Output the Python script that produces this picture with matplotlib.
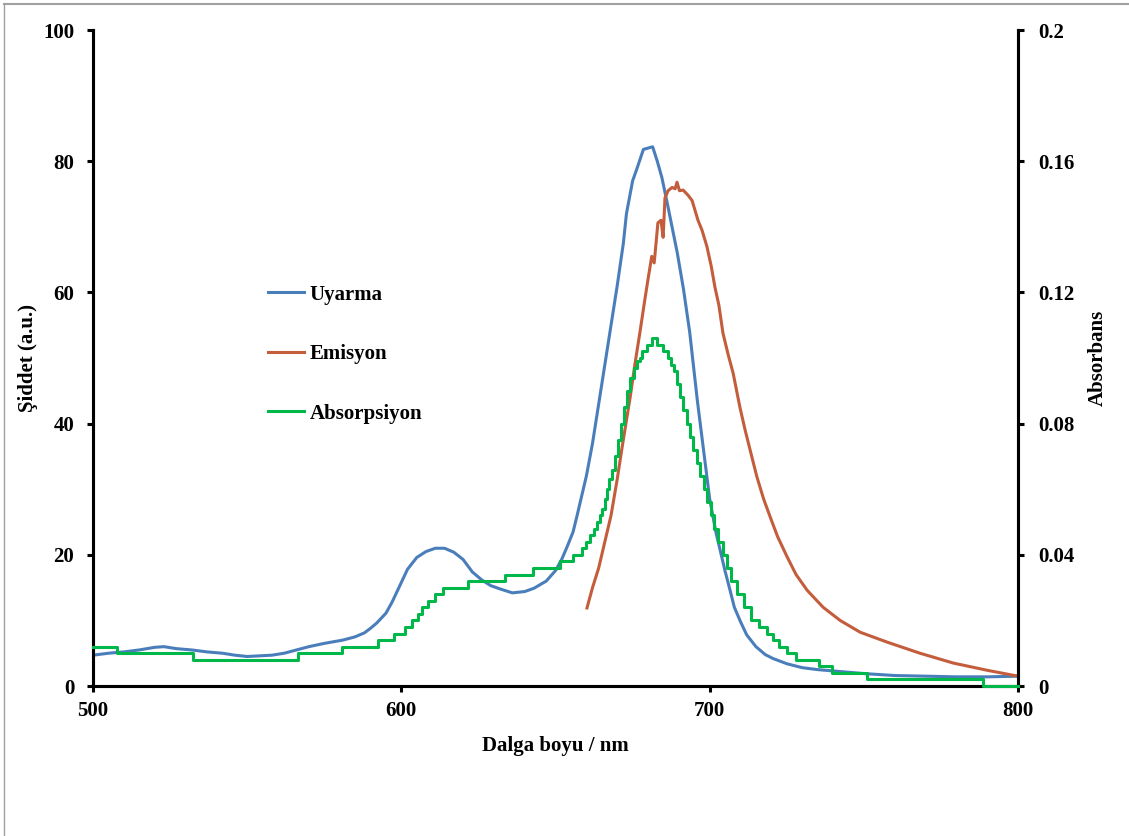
import matplotlib.pyplot as plt
from matplotlib.lines import Line2D
from matplotlib.ticker import FuncFormatter

plt.rcParams["font.family"] = ["Liberation Serif", "DejaVu Serif"]
plt.rcParams["font.weight"] = "bold"

# ---- Uyarma (uyarılma spektrumu), sol eksen ----
uyarma_nm = [500, 505, 510, 515, 520, 523, 527, 532, 537, 542, 546, 550, 554, 558,
             562, 566, 570, 575, 581, 585, 588, 590, 592, 595, 597, 600, 602, 605,
             608, 611, 614, 617, 620, 623, 626, 629, 632, 636, 640, 643, 647, 650,
             652, 654, 655.7, 657, 658, 660, 662, 664, 666, 668, 670, 672, 673, 675,
             676.5, 678.5, 680, 681.5, 683, 684.5, 686.5, 688, 689.5, 691.5, 693.5,
             696, 698, 700, 702, 703.5, 705, 706.6, 708, 710, 712, 715, 718, 720.5,
             725, 730, 735, 740, 745, 750, 760, 770, 780, 790, 800]
uyarma = [4.7, 5.0, 5.2, 5.5, 5.9, 6.0, 5.7, 5.5, 5.2, 5.0, 4.7, 4.5, 4.6, 4.7,
          5.0, 5.5, 6.0, 6.5, 7.0, 7.5, 8.1, 8.8, 9.6, 11.1, 12.8, 15.8, 17.8, 19.6,
          20.5, 21.0, 21.0, 20.4, 19.3, 17.4, 16.2, 15.3, 14.8, 14.2, 14.4, 14.9, 16.0, 17.6,
          19.3, 21.5, 23.5, 26.0, 28.0, 32.0, 37.0, 43.0, 49.0, 55.0, 61.0, 67.5, 72.0, 77.0,
          79.0, 81.8, 82.0, 82.2, 80.0, 77.5, 73.0, 69.5, 66.0, 60.5, 54.0,
          43.5, 36.0, 28.5, 23.5, 20.5, 17.5, 14.6, 12.0, 9.8, 7.8, 6.0, 4.8, 4.2,
          3.4, 2.8, 2.5, 2.3, 2.1, 1.9, 1.6, 1.5, 1.4, 1.4, 1.5]

# ---- Emisyon, sol eksen ----
emisyon_nm = [660.2, 662, 664, 666, 668, 670, 671.6, 673, 674.2, 675.8, 677.4, 679, 680,
              681.2, 682, 682.6, 683.2, 684.2, 684.9, 685.5, 686.5, 687.8, 688.8, 689.4,
              690.2, 691.4, 693, 694.3, 696.2, 697.5, 699.1, 700.5, 701.7, 703, 704.3,
              706, 707.6, 709.8, 711.5, 713.1, 715.3, 717.5, 719.6, 722, 725.1, 728,
              731.6, 736.8, 742.3, 748.8, 757.5, 768.2, 779, 790, 800]
emisyon = [11.9, 15.0, 18.0, 22.0, 26.0, 31.5, 36.4, 40.5, 44.0, 49.2, 54.0, 59.0, 62.0,
           65.5, 64.5, 67.5, 70.6, 71.0, 68.4, 74.4, 75.5, 76.0, 75.8, 76.8,
           75.5, 75.6, 74.8, 74.0, 71.0, 69.5, 67.0, 64.0, 60.8, 58.0, 53.8,
           50.5, 47.7, 42.5, 39.0, 36.0, 31.9, 28.5, 25.8, 22.8, 19.7, 17.0,
           14.6, 12.0, 10.0, 8.2, 6.7, 5.0, 3.5, 2.4, 1.5]

# ---- Absorpsiyon (basamaklı), sağ eksen ----
abs_nm = [500, 507.8, 532.4, 566.5, 580.8, 592.4, 597.5, 601.2, 603.5, 605.5, 606.7,
          608.5, 611, 613.5, 621.6, 633.6, 642.7, 651.5, 655.7, 658.6, 660.0, 661.3,
          662.5, 663.5, 664.3, 665.1, 665.9, 666.7, 667.5, 668.3, 669.3, 670.3, 671.3,
          672.3, 673.3, 674.3, 675.3, 676.4, 677.4, 678.1, 679.7, 681.3, 683.0, 685.0,
          686.5, 687.5, 688.5, 689.5, 690.5, 691.5, 692.7, 693.7, 694.7, 695.8, 697.0,
          698.0, 699.2, 700.3, 701.5, 702.8, 704.2, 705.5, 707.0, 709.0, 711.0, 713.5,
          716.0, 718.5, 720.5, 722.5, 725.0, 728.0, 735.5, 739.7, 751.0, 788.6, 800]
absorpsiyon = [0.012, 0.010, 0.008, 0.010, 0.012, 0.014, 0.016, 0.018, 0.020, 0.022, 0.024,
               0.026, 0.028, 0.030, 0.032, 0.034, 0.036, 0.038, 0.040, 0.042, 0.044, 0.046,
               0.048, 0.050, 0.052, 0.054, 0.057, 0.060, 0.063, 0.066, 0.070, 0.075, 0.080,
               0.085, 0.090, 0.094, 0.097, 0.099, 0.100, 0.102, 0.104, 0.106, 0.104, 0.102,
               0.100, 0.098, 0.096, 0.092, 0.088, 0.084, 0.080, 0.076, 0.072, 0.068, 0.064,
               0.060, 0.056, 0.052, 0.048, 0.044, 0.040, 0.036, 0.032, 0.028, 0.024, 0.020,
               0.018, 0.016, 0.014, 0.012, 0.010, 0.008, 0.006, 0.004, 0.002, 0.000, 0.000]

renk_uyarma = "#4a7ebb"
renk_emisyon = "#c35d3c"
renk_abs = "#00b84a"

fig = plt.figure(figsize=(11.29, 8.36), dpi=100)
ax = fig.add_axes([0.0824, 0.1794, 0.8193, 0.7847])
ax2 = ax.twinx()

l1, = ax.plot(uyarma_nm, uyarma, color=renk_uyarma, lw=2.2, label="Uyarma")
l2, = ax.plot(emisyon_nm, emisyon, color=renk_emisyon, lw=2.2, label="Emisyon")
l3, = ax2.plot(abs_nm, absorpsiyon, color=renk_abs, lw=2.2, drawstyle="steps-post",
               label="Absorpsiyon", clip_on=False, zorder=3)

ax.set_xlim(500, 800)
ax.set_ylim(0, 100)
ax2.set_ylim(0, 0.2)
ax.set_xticks([500, 600, 700, 800])
ax.set_yticks(range(0, 101, 20))
ax2.set_yticks([0, 0.04, 0.08, 0.12, 0.16, 0.2])
ax2.yaxis.set_major_formatter(FuncFormatter(lambda v, p: "%g" % round(v, 3)))

for a in (ax, ax2):
    a.spines["top"].set_visible(False)
    for s in ("left", "right", "bottom"):
        a.spines[s].set_linewidth(2.2)
ax.tick_params(axis="both", direction="out", length=4.5, width=2.2, labelsize=15)
ax.tick_params(axis="x", pad=6)
ax.tick_params(axis="y", pad=9)
ax2.tick_params(axis="y", direction="out", length=4.5, width=2.2, labelsize=15, pad=10)
for t in ax.get_xticklabels() + ax.get_yticklabels() + ax2.get_yticklabels():
    t.set_fontweight("bold")

ax.set_xlabel("Dalga boyu / nm", fontsize=15, fontweight="bold")
ax.set_ylabel("Şiddet (a.u.)", fontsize=15, fontweight="bold")
ax2.set_ylabel("Absorbans", fontsize=15, fontweight="bold")
ax.xaxis.set_label_coords(0.4995, -0.076)
ax.yaxis.set_label_coords(-0.0595, 0.5)
ax2.yaxis.set_label_coords(1.0757, 0.5)

ax2.legend(handles=[l1, l2, l3], loc="upper left", bbox_to_anchor=(0.189, 0.612),
           frameon=False, borderaxespad=0, borderpad=0, handlelength=1.75,
           handletextpad=0.25, labelspacing=1.9, prop={"size": 15, "weight": "bold"})

# ince gri çerçeve (üst ve sol kenar)
fig.add_artist(Line2D([0.0035, 1.0], [0.9952, 0.9952], color="#a0a0a0", lw=1.5))
fig.add_artist(Line2D([0.0035, 0.0035], [0.0, 0.9952], color="#a0a0a0", lw=1.0))

fig.savefig("out.png", dpi=100)
